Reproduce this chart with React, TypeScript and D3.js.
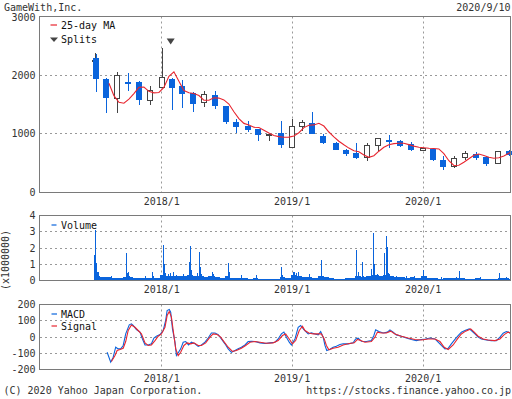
import React from "react";
import * as d3 from "d3";

// ---------- data ----------
const title = "GameWith,Inc.";
const dateLabel = "2020/9/10";
const xStart = "2017-01-28";
const xEnd = "2020-09-08";

const yearTickDates = ["2018-01-04", "2019-01-04", "2020-01-06"];
const yearTickLabels = ["2018/1", "2019/1", "2020/1"];

const priceTicks = [0, 1000, 2000, 3000];
const volumeTicks = [0, 1, 2, 3, 4];
const macdTicks = [-200, -100, 0, 100, 200];

// monthly candles (first trading day of each month; IPO day for June 2017)
const candleDates = [
  "2017-06-30", "2017-07-03", "2017-08-01", "2017-09-01", "2017-10-02", "2017-11-01", "2017-12-01",
  "2018-01-04", "2018-02-01", "2018-03-01", "2018-04-02", "2018-05-01", "2018-06-01", "2018-07-02",
  "2018-08-01", "2018-09-03", "2018-10-01", "2018-11-01", "2018-12-03", "2019-01-04", "2019-02-01",
  "2019-03-01", "2019-04-01", "2019-05-07", "2019-06-03", "2019-07-01", "2019-08-01", "2019-09-02",
  "2019-10-01", "2019-11-01", "2019-12-02", "2020-01-06", "2020-02-03", "2020-03-02", "2020-04-01",
  "2020-05-01", "2020-06-01", "2020-07-01", "2020-08-03", "2020-09-01",
];
const candleOpen = [2245, 2296, 1938, 1597, 1892, 1892, 1573, 1795, 1931, 1807, 1704, 1529, 1670, 1466, 1210, 1142, 1074, 980, 1006, 772, 1120, 1193, 966, 852, 716, 665, 591, 796, 903, 881, 824, 711, 738, 557, 438, 591, 659, 597, 489, 699];
const candleHigh = [2370, 2364, 1950, 2062, 2033, 1900, 1807, 2471, 1960, 1921, 1710, 1733, 1733, 1480, 1249, 1227, 1080, 1000, 1227, 1261, 1244, 1364, 1000, 869, 745, 852, 852, 915, 983, 903, 864, 755, 767, 626, 619, 711, 694, 614, 694, 716];
const candleLow = [2230, 1710, 1352, 1352, 1738, 1483, 1500, 1780, 1398, 1437, 1369, 1454, 1420, 1164, 1011, 1028, 875, 886, 755, 770, 1045, 990, 823, 716, 619, 568, 534, 704, 762, 773, 704, 705, 545, 380, 414, 557, 562, 460, 489, 619];
const candleClose = [2250, 1931, 1607, 1989, 1863, 1585, 1733, 1960, 1778, 1676, 1512, 1665, 1471, 1198, 1125, 1062, 972, 995, 806, 1120, 1188, 994, 840, 721, 653, 585, 796, 915, 875, 790, 721, 750, 551, 431, 585, 659, 580, 483, 694, 636];

// 25-day moving average, sampled every 14 days from maStart
const maStart = "2017-08-09";
const maStepDays = 14;
const maValues = [
  1863, 1650, 1537, 1522, 1592, 1687, 1793, 1798, 1725, 1699,
  1705, 1790, 1982, 2057, 1897, 1739, 1701, 1689, 1652, 1575,
  1573, 1616, 1609, 1578, 1508, 1376, 1260, 1178, 1152, 1113,
  1108, 1062, 1016, 973, 953, 943, 944, 963, 1019, 1106,
  1147, 1152, 1180, 1133, 1031, 948, 873, 813, 757, 712,
  695, 641, 600, 626, 704, 770, 815, 833, 840, 840,
  816, 791, 770, 764, 755, 750, 743, 663, 542, 460,
  465, 516, 576, 634, 655, 632, 600, 585, 593, 622,
  668,
];
const maEndDate = "2020-09-07";
const maEndValue = 690;

const splitDates = ["2018-01-29"];

// volume: half-month typical levels (x1,000,000) from 2017/7 first half
const volumeBaseStart = { year: 2017, month: 7 };
const volumeBase = [
  0.25, 0.22, 0.2, 0.18, 0.18, 0.2, 0.22, 0.18, 0.15, 0.15, 0.18, 0.15,
  0.35, 0.3, 0.3, 0.25, 0.25, 0.35, 0.3, 0.28, 0.2, 0.28, 0.2, 0.18, 0.28, 0.18, 0.15, 0.15, 0.12, 0.14, 0.12, 0.1, 0.12, 0.12, 0.2, 0.15,
  0.35, 0.3, 0.2, 0.2, 0.15, 0.28, 0.2, 0.15, 0.12, 0.1, 0.14, 0.15, 0.3, 0.22, 0.25, 0.35, 0.25, 0.35, 0.25, 0.2, 0.2, 0.18, 0.2, 0.15,
  0.25, 0.15, 0.15, 0.12, 0.15, 0.15, 0.18, 0.15, 0.12, 0.12, 0.15, 0.12, 0.12, 0.12, 0.18, 0.15, 0.12,
];
const volumeSpikeDates = [
  "2017-06-30", "2017-07-03", "2017-07-04", "2017-07-05", "2017-07-06", "2017-07-07", "2017-07-10", "2017-07-12", "2017-07-14",
  "2017-08-16", "2017-09-27", "2017-09-28", "2017-09-29", "2017-10-02", "2017-10-05", "2017-11-20", "2017-12-08", "2017-12-11",
  "2018-01-09", "2018-01-10", "2018-01-11", "2018-01-12", "2018-01-15", "2018-01-22", "2018-01-29", "2018-02-05", "2018-02-14",
  "2018-03-05", "2018-03-22", "2018-03-23", "2018-03-26", "2018-03-27", "2018-03-29", "2018-04-13", "2018-04-20", "2018-04-23",
  "2018-04-25", "2018-05-25", "2018-05-28", "2018-07-09", "2018-07-10", "2018-07-11", "2018-07-13", "2018-08-15", "2018-09-25",
  "2018-12-05", "2018-12-06", "2018-12-07", "2019-01-07", "2019-01-08", "2019-01-10", "2019-01-15", "2019-01-23", "2019-02-22",
  "2019-03-26", "2019-03-27", "2019-03-28", "2019-04-01", "2019-07-02", "2019-07-03", "2019-07-04", "2019-07-08", "2019-07-10",
  "2019-07-19", "2019-07-22", "2019-08-13", "2019-08-19", "2019-08-20", "2019-08-21", "2019-08-23", "2019-08-27", "2019-08-30",
  "2019-09-04", "2019-09-20", "2019-09-24", "2019-09-25", "2019-09-27", "2019-09-30", "2019-10-02", "2019-10-04", "2019-10-24",
  "2019-11-21", "2019-12-13", "2020-01-06", "2020-01-08", "2020-01-10", "2020-02-27", "2020-04-09", "2020-04-17", "2020-06-15",
  "2020-08-07", "2020-08-26",
];
const volumeSpikeValues = [
  1.55, 3.08, 1.05, 0.45, 0.75, 0.5, 0.55, 0.41, 0.3,
  0.3, 1.68, 0.6, 0.45, 0.55, 0.3, 0.3, 0.5, 0.3,
  0.83, 2.19, 1.03, 0.65, 0.45, 0.4, 0.45, 0.5, 0.35,
  0.4, 1.12, 0.6, 2.15, 0.65, 0.4, 0.45, 1.75, 0.85,
  0.4, 0.5, 0.4, 1.06, 0.75, 0.65, 0.5, 0.33, 0.33,
  0.81, 0.4, 0.35, 0.45, 0.54, 0.5, 0.45, 0.5, 0.4,
  1.27, 0.8, 1.06, 0.3, 1.9, 0.6, 0.71, 0.5, 0.55,
  1.15, 0.3, 0.68, 2.95, 0.5, 1.03, 1.0, 0.35, 0.4,
  0.35, 1.7, 2.75, 0.5, 2.05, 0.45, 0.45, 0.4, 0.3,
  0.28, 0.28, 0.62, 0.4, 0.25, 0.22, 0.22, 0.57, 0.22,
  0.45, 0.2,
];

// MACD / Signal: day offsets from macdStart with values
const macdStart = "2017-08-04";
const macdDays = [0, 10, 17, 24, 31, 38, 45, 52, 62, 68, 73, 82, 92, 99, 106, 115, 124, 131, 138, 148, 157, 164, 168, 174, 178, 183, 190, 194, 200, 206, 213, 220, 228, 236, 246, 255, 264, 274, 283, 292, 302, 311, 320, 330, 339, 348, 358, 367, 376, 386, 395, 404, 414, 428, 442, 456, 470, 479, 488, 495, 502, 510, 516, 526, 535, 542, 551, 563, 572, 582, 591, 598, 605, 610, 615, 624, 633, 642, 652, 661, 675, 689, 696, 703, 712, 726, 740, 747, 752, 761, 773, 785, 792, 801, 810, 824, 838, 852, 866, 880, 892, 904, 918, 927, 936, 946, 955, 964, 974, 983, 992, 1002, 1014, 1020, 1030, 1039, 1048, 1062, 1076, 1090, 1100, 1109, 1118, 1125, 1130];
const macdValues = [-94, -155, -124, -63, -73, -73, -52, 19, 75, 81, 71, 46, 30, -12, -49, -49, -42, -7, 5, 15, 40, 102, 163, 169, 153, 50, -32, -114, -94, -73, -32, -28, -49, -32, -42, -58, -49, -32, -6, 25, 25, 15, -12, -42, -73, -94, -83, -73, -63, -49, -28, -26, -28, -36, -40, -36, -32, -12, 19, 30, -1, -32, -49, -12, 60, 71, 46, 19, 25, 19, 13, 34, -1, -52, -83, -75, -63, -57, -46, -42, -42, -36, -12, -7, -26, -28, -22, 9, 44, 34, 25, 30, 44, 30, 13, 5, -6, -15, -22, -15, -12, -6, -12, -32, -52, -73, -69, -42, -15, 9, 30, 40, 50, 40, 19, -1, -12, -18, -22, -22, -1, 23, 34, 30, 19];
const signalDays = [12, 22, 28, 36, 45, 52, 59, 68, 78, 87, 96, 106, 115, 124, 134, 143, 152, 162, 168, 174, 180, 187, 192, 199, 206, 215, 224, 234, 243, 255, 264, 276, 288, 297, 308, 318, 327, 339, 351, 362, 376, 388, 400, 414, 428, 446, 465, 479, 491, 500, 510, 519, 528, 538, 547, 554, 565, 577, 591, 600, 608, 614, 621, 633, 647, 661, 675, 692, 701, 710, 722, 740, 750, 757, 768, 782, 794, 806, 824, 843, 862, 880, 899, 918, 932, 944, 955, 969, 981, 992, 1004, 1018, 1028, 1039, 1053, 1067, 1086, 1100, 1112, 1123, 1130];
const signalValues = [-151, -114, -83, -77, -69, -28, 40, 74, 60, 40, 19, -36, -52, -49, -22, 5, 19, 60, 132, 157, 122, 9, -73, -114, -94, -52, -36, -42, -36, -52, -52, -36, -1, 19, 15, -1, -28, -63, -89, -83, -69, -52, -32, -28, -32, -38, -36, -22, 9, 19, -12, -42, -22, 40, 66, 40, 25, 19, 19, 19, -12, -52, -79, -69, -63, -49, -42, -36, -15, -22, -32, -28, -1, 30, 25, 25, 36, 19, 5, -6, -15, -18, -12, -12, -28, -63, -77, -49, -12, 19, 36, 50, 30, 5, -12, -18, -22, -12, 15, 30, 25];

// ---------- helpers ----------
function pd(s: string): Date {
  const [y, m, d] = s.split("-").map(Number);
  return new Date(y, m - 1, d);
}
function key(d: Date): string {
  return d3.timeFormat("%Y-%m-%d")(d);
}

const BLUE = "#0a64dc";
const RED = "#e8252f";
const GRAY = "#444";
const TEXT = "#333";
const GRID = "#999";
const BORDER = "#7a7a7a";

export default function App() {
  const x = d3.scaleTime().domain([pd(xStart), pd(xEnd)]).range([40, 511]);
  const yP = d3.scaleLinear().domain([0, 3000]).range([192.5, 16.5]);
  const yV = d3.scaleLinear().domain([0, 4]).range([280.5, 215.5]);
  const yM = d3.scaleLinear().domain([-200, 200]).range([369.5, 304.5]);

  const panels = [
    { top: 16.5, bottom: 192.5, grid: [1000, 2000].map((v) => yP(v)), labelY: 205, ticks: priceTicks, ys: yP },
    { top: 215.5, bottom: 280.5, grid: [1, 2, 3].map((v) => yV(v)), labelY: 293, ticks: volumeTicks, ys: yV },
    { top: 304.5, bottom: 369.5, grid: [-100, 0, 100].map((v) => yM(v)), labelY: 381.5, ticks: macdTicks, ys: yM },
  ];
  const snap = (v: number) => Math.round(v - 0.5) + 0.5;

  const candles = candleDates.map((d, i) => ({
    date: pd(d),
    o: candleOpen[i],
    h: candleHigh[i],
    l: candleLow[i],
    c: candleClose[i],
  }));

  const maPts: [Date, number][] = maValues.map((v, i) => [d3.timeDay.offset(pd(maStart), i * maStepDays), v]);
  maPts.push([pd(maEndDate), maEndValue]);
  const maLine = d3
    .line<[Date, number]>()
    .x((p) => x(p[0]))
    .y((p) => yP(p[1]));

  const spikeMap = new Map<string, number>();
  volumeSpikeDates.forEach((d, i) => spikeMap.set(d, volumeSpikeValues[i]));
  const tradingDays = d3
    .timeDay.range(pd("2017-06-30"), pd(xEnd))
    .filter((d) => d.getDay() !== 0 && d.getDay() !== 6);
  const volBars = tradingDays.map((d) => {
    const k = key(d);
    const idx =
      (d.getFullYear() - volumeBaseStart.year) * 24 +
      (d.getMonth() - (volumeBaseStart.month - 1)) * 2 +
      (d.getDate() > 15 ? 1 : 0);
    const base = idx >= 0 && idx < volumeBase.length ? volumeBase[idx] : 0;
    const v = spikeMap.has(k) ? (spikeMap.get(k) as number) : base;
    return { d, v };
  });

  const macdPts: [Date, number][] = macdDays.map((dd, i) => [d3.timeDay.offset(pd(macdStart), dd), macdValues[i]]);
  const sigPts: [Date, number][] = signalDays.map((dd, i) => [d3.timeDay.offset(pd(macdStart), dd), signalValues[i]]);
  const mLine = d3
    .line<[Date, number]>()
    .x((p) => x(p[0]))
    .y((p) => yM(p[1]));

  return (
    <svg
      width={512}
      height={399}
      style={{ position: "absolute", left: 0, top: 0, background: "#fff" }}
      fontFamily="'DejaVu Sans Mono', monospace"
      fontSize={10}
    >
      <rect x={0} y={0} width={512} height={399} fill="#fff" />
      <text x={4} y={11} fill={TEXT}>{title}</text>
      <text x={510.5} y={11} fill={TEXT} textAnchor="end">{dateLabel}</text>

      {panels.map((p, pi) => (
        <g key={"panel" + pi}>
          {p.grid.map((gy, gi) => (
            <line key={"h" + gi} x1={40} x2={510} y1={snap(gy)} y2={snap(gy)} stroke={GRID} strokeDasharray="2,3" />
          ))}
          {yearTickDates.map((td, ti) => (
            <line key={"v" + ti} x1={snap(x(pd(td)))} x2={snap(x(pd(td)))} y1={p.top} y2={p.bottom} stroke={GRID} strokeDasharray="2,3" />
          ))}
          {yearTickDates.map((td, ti) => (
            <text key={"xl" + ti} x={x(pd(td))} y={p.labelY} textAnchor="middle" fill={TEXT}>
              {yearTickLabels[ti]}
            </text>
          ))}
          {p.ticks.map((t, ti) => (
            <text key={"yl" + ti} x={35.5} y={p.ys(t) + 3.6 + (pi === 0 && t === 3000 ? 0.5 : 0)} textAnchor="end" fill={TEXT}>
              {t}
            </text>
          ))}
        </g>
      ))}

      <g shapeRendering="crispEdges">
        {volBars.map((b, i) => (
          <rect key={"vb" + i} x={x(b.d) - 0.5} width={1} y={yV(b.v)} height={yV(0) - yV(b.v)} fill={BLUE} />
        ))}
      </g>

      <g shapeRendering="crispEdges">
        {candles.map((c, i) => {
          const cx = Math.round(x(c.date));
          const up = c.c >= c.o;
          const col = up ? GRAY : BLUE;
          const top = yP(Math.max(c.o, c.c));
          const bot = yP(Math.min(c.o, c.c));
          return (
            <g key={"c" + i}>
              <line x1={cx} x2={cx} y1={yP(c.h)} y2={yP(c.l)} stroke={col} strokeWidth={1} />
              {up ? (
                <rect x={cx - 2.5} y={top} width={5} height={Math.max(bot - top, 1)} fill="#fff" stroke={GRAY} strokeWidth={1} />
              ) : (
                <rect x={cx - 3} y={top} width={6} height={Math.max(bot - top, 2)} fill={BLUE} />
              )}
            </g>
          );
        })}
      </g>

      <path d={maLine(maPts) || ""} fill="none" stroke={RED} strokeWidth={1.1} />

      {splitDates.map((sd, i) => {
        const sx = x(pd(sd));
        return <path key={"s" + i} d={`M${sx - 4},38.5L${sx + 4},38.5L${sx},44.5Z`} fill={GRAY} />;
      })}

      <path d={mLine(macdPts) || ""} fill="none" stroke={BLUE} strokeWidth={1.1} />
      <path d={mLine(sigPts) || ""} fill="none" stroke={RED} strokeWidth={1.1} />

      {panels.map((p, pi) => (
        <rect key={"b" + pi} x={39.5} y={p.top} width={471} height={p.bottom - p.top} fill="none" stroke={BORDER} strokeWidth={1} />
      ))}

      <line x1={50.5} x2={57} y1={25} y2={25} stroke={RED} strokeWidth={1.2} />
      <text x={61} y={29} fill="#111">25-day MA</text>
      <path d="M50,37.5L58,37.5L54,42Z" fill={GRAY} />
      <text x={61} y={42.5} fill="#111">Splits</text>

      <line x1={51.5} x2={56.5} y1={225} y2={225} stroke={BLUE} strokeWidth={1.2} />
      <text x={61} y={228.5} fill="#111">Volume</text>

      <line x1={51.5} x2={57} y1={314} y2={314} stroke={BLUE} strokeWidth={1.2} />
      <text x={61} y={318} fill="#111">MACD</text>
      <line x1={51.5} x2={57} y1={326} y2={326} stroke={RED} strokeWidth={1.2} />
      <text x={61} y={330} fill="#111">Signal</text>

      <text transform="translate(8.5,260) rotate(-90)" textAnchor="middle" fill={TEXT}>
        (x1000000)
      </text>

      <text x={3.5} y={393.5} fill={TEXT}>(C) 2020 Yahoo Japan Corporation.</text>
      <text x={511} y={393.5} textAnchor="end" fill={TEXT}>https://stocks.finance.yahoo.co.jp</text>
    </svg>
  );
}
